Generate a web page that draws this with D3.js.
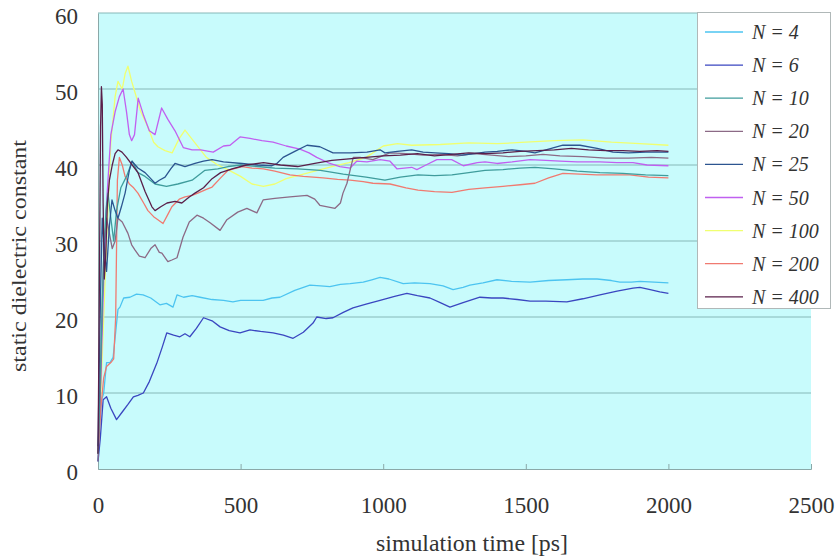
<!DOCTYPE html>
<html><head><meta charset="utf-8">
<script src="https://cdn.jsdelivr.net/npm/d3@7"></script>
<style>body{margin:0;background:#fff}svg{display:block}</style>
</head><body>
<script>
const seriesNames = ["N = 4","N = 6","N = 10","N = 20","N = 25","N = 50","N = 100","N = 200","N = 400"];
const seriesColors = ["#4cc4f0","#3a46c0","#3f9c9c","#8c6a86","#2c5590","#c060f0","#f0ff70","#f07a70","#5a1f4a"];
const xTicks = [0,500,1000,1500,2000,2500];
const yTicks = [0,10,20,30,40,50,60];

const dataN4 = [[0,1],[5,5],[12,9],[20,10],[30,14],[42,14],[53,14.7],[62,18],[70,21],[77,21.3],[90,22.5],[112,22.6],[135,23],[158,22.9],[185,22.5],[217,21.6],[240,21.8],[263,21.3],[277,22.9],[300,22.6],[330,22.8],[358,22.6],[400,22.3],[440,22.2],[473,22],[500,22.2],[522,22.2],[560,22.2],[579,22.2],[610,22.5],[638,22.6],[690,23.5],[743,24.2],[780,24.1],[813,24],[850,24.3],[884,24.4],[930,24.6],[960,24.9],[989,25.2],[1020,25],[1070,24.4],[1110,24.5],[1164,24.4],[1210,24.1],[1245,23.6],[1280,23.9],[1304,24.2],[1350,24.5],[1399,24.9],[1450,24.7],[1515,24.6],[1580,24.8],[1644,24.9],[1700,25],[1750,25],[1800,24.8],[1830,24.6],[1870,24.6],[1900,24.7],[1950,24.6],[2000,24.5]];
const dataN6 = [[0,1],[8,4],[18,9.1],[30,9.5],[45,8],[65,6.5],[85,7.5],[105,8.5],[124,9.5],[140,9.7],[159,10],[180,11.5],[206,13.9],[225,16],[241,17.9],[265,17.6],[287,17.4],[305,17.8],[322,17.4],[345,18.5],[370,19.9],[400,19.5],[428,18.7],[460,18.2],[498,17.9],[533,18.3],[570,18.1],[614,17.9],[650,17.6],[684,17.2],[720,18],[754,19.2],[767,20],[800,19.8],[824,19.9],[860,20.6],[894,21.2],[940,21.7],[989,22.2],[1040,22.7],[1083,23.1],[1120,22.8],[1164,22.5],[1200,21.9],[1234,21.3],[1280,21.9],[1339,22.6],[1380,22.5],[1420,22.5],[1470,22.3],[1515,22.1],[1570,22.1],[1644,22],[1700,22.4],[1760,22.9],[1820,23.4],[1876,23.8],[1900,23.9],[1936,23.6],[1970,23.3],[2000,23.1]];
const dataN10 = [[0,2],[10,15],[20,28],[28,34],[35,36.3],[45,33],[55,30],[65,34],[80,37],[100,38.5],[120,40.5],[140,39],[165,38.5],[200,37.5],[240,37.2],[280,37.5],[330,38],[375,39.3],[420,39.5],[456,39.8],[500,40],[560,39.8],[620,39.6],[700,39.5],[780,39.3],[860,38.8],[940,38.4],[1006,38],[1060,38.4],[1122,38.7],[1180,38.6],[1241,38.7],[1300,39],[1357,39.3],[1420,39.4],[1480,39.6],[1532,39.7],[1600,39.5],[1680,39.2],[1760,39],[1840,38.9],[1920,38.7],[2000,38.6]];
const dataN20 = [[0,1],[8,10],[15,22],[22,30],[30,33],[40,31],[50,29],[60,30],[70,33],[85,32.5],[105,31],[118,29.5],[130,28.8],[145,28],[165,27.8],[185,29],[200,29.5],[215,28.5],[224,28.4],[245,27.3],[259,27.5],[277,27.8],[298,30.5],[320,32.5],[347,33.4],[370,33],[393,32.4],[428,31.4],[452,32.8],[490,33.8],[522,34.3],[557,33.7],[579,35.4],[620,35.6],[673,35.8],[733,36],[760,35.5],[778,34.7],[831,34.3],[850,35],[859,36.3],[873,37.6],[885,39.5],[895,41],[919,41],[964,40.7],[1024,41.6],[1080,41.5],[1140,41.3],[1200,41.4],[1260,41.2],[1320,41.5],[1380,41.3],[1440,41.1],[1500,41.2],[1560,41.4],[1620,41.2],[1700,41.1],[1780,40.9],[1860,40.9],[1940,41],[2000,40.9]];
const dataN25 = [[0,3],[5,15],[10,25],[15,33],[20,30],[30,26],[40,32],[49,35.4],[60,34],[70,33],[82,34.5],[95,36.3],[110,39.3],[119,40.5],[140,39.6],[165,39],[185,38.2],[200,37.6],[215,38],[235,38.4],[255,39.5],[270,40.2],[305,39.8],[340,40.2],[370,40.5],[400,40.7],[440,40.4],[505,40.2],[560,40],[610,39.9],[627,40.2],[649,41],[690,41.8],[733,42.6],[778,42.4],[824,41.6],[884,41.6],[943,41.7],[989,42],[1006,41.6],[1050,41.8],[1100,42],[1140,41.7],[1182,41.6],[1230,41.5],[1276,41.3],[1320,41.5],[1357,41.7],[1400,41.8],[1452,42],[1500,41.8],[1532,41.6],[1580,42.1],[1630,42.6],[1690,42.6],[1750,42.2],[1806,41.7],[1860,41.6],[1920,41.7],[2000,41.7]];
const dataN50 = [[0,2],[10,12],[20,25],[30,35],[45,44],[60,47],[75,49],[88,50],[100,47],[110,44],[118,43.2],[128,44],[141,48.8],[160,46.5],[180,44.5],[200,44],[223,47.5],[245,46],[270,44.5],[299,42.3],[330,42],[360,42],[404,41.7],[440,42.5],[463,42.6],[498,43.7],[533,43.5],[575,43.2],[614,43],[660,42.5],[708,42.1],[740,41.6],[767,41],[813,40.2],[848,39.8],[884,39.6],[907,40.5],[943,40.4],[989,40.7],[1024,40.5],[1048,39.5],[1100,39.7],[1118,39.4],[1150,40],[1188,40.7],[1240,40.7],[1281,39.9],[1330,40.3],[1357,40.4],[1399,40.2],[1452,40.4],[1515,40.7],[1570,40.6],[1620,40.5],[1680,40.4],[1760,40.4],[1820,40.3],[1876,40.3],[1925,40],[2000,39.9]];
const dataN100 = [[0,3],[10,10],[20,20],[30,30],[45,43],[60,49],[70,51],[85,50],[95,52],[105,53],[118,51],[130,49.5],[150,47],[175,45],[195,43],[210,42.4],[235,41.9],[260,41.6],[285,43.5],[305,44.6],[340,42.9],[380,41],[420,40],[460,39.3],[500,38.5],[540,37.5],[580,37.2],[620,37.5],[660,38.2],[700,38.6],[760,39.2],[820,39.8],[880,40.3],[940,41],[1000,42.5],[1050,42.8],[1100,42.6],[1200,42.7],[1300,42.9],[1400,42.8],[1500,43],[1600,43.2],[1700,43.3],[1800,43],[1900,42.8],[2000,42.6]];
const dataN200 = [[0,2],[10,8],[20,12],[30,13.5],[45,14],[55,14.5],[62,20],[68,38],[75,41],[85,40],[95,38.5],[110,37.5],[125,37],[140,36.3],[160,35],[175,34],[195,33.2],[210,32.8],[228,32.3],[245,33.5],[259,34.5],[285,35.5],[305,35.8],[330,36],[350,36.3],[380,36.8],[400,37.1],[430,38.3],[456,39.3],[505,39.8],[540,39.6],[580,39.5],[620,39.2],[673,38.7],[720,38.5],[789,38.3],[840,38.1],[884,38],[930,37.8],[964,37.6],[1024,37.5],[1080,37],[1122,36.7],[1180,36.5],[1241,36.4],[1300,36.8],[1357,37],[1420,37.2],[1480,37.4],[1532,37.6],[1580,38.3],[1630,38.9],[1690,38.8],[1750,38.7],[1810,38.7],[1865,38.7],[1930,38.4],[2000,38.3]];
const dataN400 = [[0,2],[3,15],[6,30],[9,45],[12,50.3],[15,48],[18,35],[22,25],[27,28],[33,35],[40,38],[50,40],[60,41.5],[70,42],[84,41.7],[100,41],[120,40],[140,39],[165,36.5],[189,34.5],[200,34],[220,34.5],[242,35],[270,35.2],[294,35],[320,35.8],[340,36.3],[370,37],[400,38.2],[430,39],[470,39.5],[520,40],[580,40.3],[640,40],[700,39.8],[760,40.2],[820,40.6],[880,40.8],[940,41],[1000,41.2],[1060,41.3],[1120,41.5],[1180,41.2],[1240,41.4],[1300,41.6],[1360,41.5],[1420,41.6],[1480,41.8],[1540,41.9],[1600,42],[1660,42.2],[1720,42],[1780,41.9],[1840,41.9],[1900,41.8],[1960,41.9],[2000,41.8]];
const seriesData = [dataN4,dataN6,dataN10,dataN20,dataN25,dataN50,dataN100,dataN200,dataN400];

const W = 836, H = 558;
const plot = {left: 98, right: 811, top: 13, bottom: 469};
const svg = d3.select("body").append("svg").attr("width", W).attr("height", H);
const x = d3.scaleLinear().domain([0, 2500]).range([plot.left, plot.right]);
const y = d3.scaleLinear().domain([0, 60]).range([plot.bottom, plot.top]);
const serif = "'Liberation Serif','Times New Roman',Tinos,serif";

svg.append("rect").attr("x", plot.left).attr("y", plot.top)
  .attr("width", plot.right - plot.left).attr("height", plot.bottom - plot.top)
  .attr("fill", "#c8fbfc");

// gridlines
svg.append("g").selectAll("line").data(yTicks.filter(d => d > 0)).join("line")
  .attr("x1", plot.left).attr("x2", plot.right)
  .attr("y1", d => y(d)).attr("y2", d => y(d))
  .attr("stroke", "#86b8b8").attr("stroke-width", 1);

// axes
const xAxis = d3.axisBottom(x).tickValues(xTicks).tickFormat(d3.format("d")).tickSize(-5).tickPadding(28);
const gx = svg.append("g").attr("transform", `translate(0,${plot.bottom})`).call(xAxis);
gx.select(".domain").attr("stroke", "#8aa8a8");
gx.selectAll(".tick line").attr("stroke", "#8aa8a8");
gx.selectAll("text").attr("font-family", serif).attr("font-size", 23).attr("fill", "#333");

const yAxis = d3.axisLeft(y).tickValues(yTicks).tickFormat(d3.format("d")).tickSize(0).tickPadding(20);
const gy = svg.append("g").attr("transform", `translate(${plot.left},0)`).call(yAxis);
gy.select(".domain").attr("stroke", "#8aa8a8");
gy.selectAll("text").attr("font-family", serif).attr("font-size", 23).attr("fill", "#333").attr("dy", "0.45em");

// series lines
const line = d3.line().x(d => x(d[0])).y(d => y(d[1]));
const order = [0,1,6,5,7,3,2,4,8];
svg.append("g").selectAll("path").data(order).join("path")
  .attr("d", i => line(seriesData[i]))
  .attr("fill", "none").attr("stroke", i => seriesColors[i])
  .attr("stroke-width", 1.3).attr("stroke-linejoin", "round");

// axis titles
svg.append("text").attr("x", 472).attr("y", 551).attr("text-anchor", "middle")
  .attr("font-family", serif).attr("font-size", 23).attr("fill", "#333")
  .attr("textLength", 192).attr("lengthAdjust", "spacingAndGlyphs")
  .text("simulation time [ps]");
svg.append("text").attr("transform", "translate(26,256) rotate(-90)").attr("text-anchor", "middle")
  .attr("font-family", serif).attr("font-size", 22).attr("fill", "#333")
  .attr("textLength", 232).attr("lengthAdjust", "spacingAndGlyphs")
  .text("static dielectric constant");

// legend
const lg = svg.append("g");
lg.append("rect").attr("x", 697.5).attr("y", 12.5).attr("width", 133).attr("height", 296)
  .attr("fill", "#fff").attr("stroke", "#b0b8b8");
const rows = lg.selectAll("g.row").data(seriesNames).join("g").attr("class", "row")
  .attr("transform", (d, i) => `translate(0,${32 + i * 33.1})`);
rows.append("line").attr("x1", 705).attr("x2", 743).attr("y1", 0).attr("y2", 0)
  .attr("stroke", (d, i) => seriesColors[i]).attr("stroke-width", 1.3);
rows.append("text").attr("x", 752).attr("y", 0).attr("dy", "0.35em")
  .attr("font-family", serif).attr("font-style", "italic").attr("font-size", 20).attr("fill", "#333")
  .text(d => d);
</script>
</body></html>
